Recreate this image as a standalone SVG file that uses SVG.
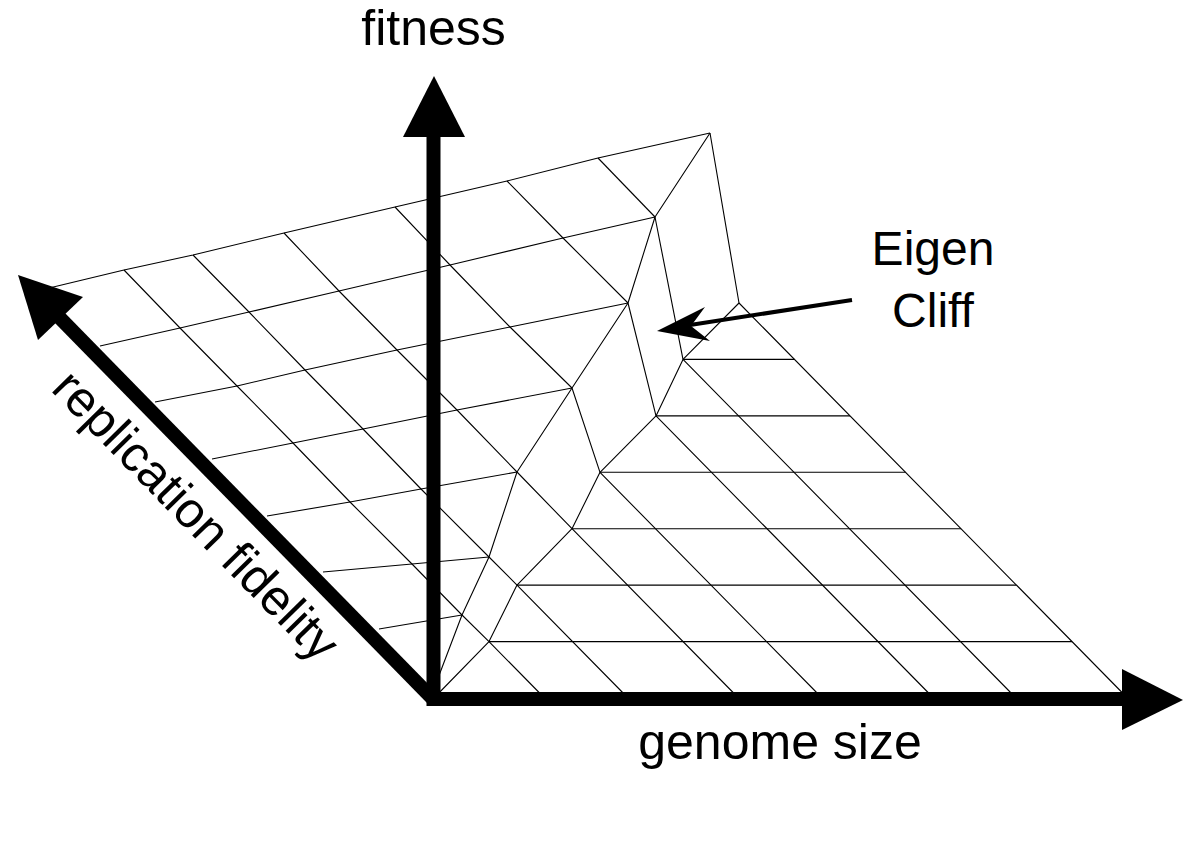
<svg xmlns="http://www.w3.org/2000/svg" width="1200" height="866" viewBox="0 0 1200 866">
<style>
.mesh{fill:none;stroke:#000;stroke-width:1.1;stroke-linejoin:round}
.axis{fill:none;stroke:#000;stroke-width:14;stroke-linecap:butt}
.head{fill:#000;stroke:none}
.lbl{font-family:"Liberation Sans",Arial,sans-serif;fill:#000;text-anchor:middle}
</style>
<rect x="0" y="0" width="1200" height="866" fill="#fff"/>
<g id="surface" class="mesh">
  <g id="plateau-rows">
    <path d="M45,289 L124,270 L193,255 L284,233 L395,207 L507,181 L598,158 L710,133"/>
    <path d="M100,346 L180,328 L249,312 L339,291 L450,265 L563,238 L655,217"/>
    <path d="M155,402 L237,386 L305,370 L397,350 L510,327 L628,303"/>
    <path d="M212,459 L293,443 L363,429 L457,410 L572,388"/>
    <path d="M267,516 L350,502 L421,489 L517,472"/>
    <path d="M323,572 L412,564 L489,557"/>
    <path d="M379,629 L462,615"/>
  </g>
  <g id="plateau-cols">
    <path d="M124,270 L180,328 L237,386 L293,443 L350,502 L412,564 L462,615"/>
    <path d="M193,255 L249,312 L305,370 L363,429 L421,489 L489,557"/>
    <path d="M284,233 L339,291 L397,350 L457,410 L517,472"/>
    <path d="M395,207 L450,265 L510,327 L572,388"/>
    <path d="M507,181 L563,238 L628,303"/>
    <path d="M598,158 L655,217"/>
  </g>
  <g id="cliff">
    <path d="M710,133 L655,217 L628,303 L572,388 L517,472 L489,557 L462,615 L435,686"/>
    <path d="M739,303 L683,359.4 L656,415.9 L600,472.3 L572,528.7 L517,585.1 L489,641.6 L434,698"/>
    <path d="M710,133 L739,303 M655,217 L683,359.4 M628,303 L656,415.9 M572,388 L600,472.3 M517,472 L572,528.7 M489,557 L517,585.1 M462,615 L489,641.6"/>
  </g>
  <g id="floor">
    <path d="M683,359.4 H794.5 M656,415.9 H850 M600,472.3 H905.5 M572,528.7 H961 M517,585.1 H1016.5 M489,641.6 H1072"/>
    <path d="M739,303 L1127.5,698 M683,359.4 L1016,698 M656,415.9 L933.5,698 M600,472.3 L822,698 M572,528.7 L738.5,698 M517,585.1 L628,698 M489,641.6 L544.5,698"/>
  </g>
</g>
<g id="axes">
  <g id="axis-fitness">
    <line class="axis" x1="433.5" y1="706" x2="433.5" y2="135"/>
    <polygon class="head" points="434,76 465,137 403,137"/>
  </g>
  <g id="axis-genome">
    <line class="axis" x1="427" y1="699" x2="1124" y2="699"/>
    <polygon class="head" points="1183,700 1122,669 1122,730"/>
  </g>
  <g id="axis-fidelity">
    <line class="axis" x1="433" y1="699" x2="58" y2="316"/>
    <polygon class="head" points="18,275 83,297 38,340"/>
  </g>
</g>
<g id="labels">
  <text id="label-fitness" class="lbl" x="433.5" y="45" font-size="50">fitness</text>
  <text id="label-genome" class="lbl" x="780" y="759" font-size="50">genome size</text>
  <text id="label-fidelity" class="lbl" font-size="50" transform="translate(184,527) rotate(45.6)">replication fidelity</text>
</g>
<g id="annotation">
  <text class="lbl" x="933" y="265" font-size="48">Eigen</text>
  <text class="lbl" x="933" y="327" font-size="48">Cliff</text>
  <g id="connectors">
    <line x1="852" y1="300" x2="690" y2="325" stroke="#000" stroke-width="4"/>
    <polygon class="head" points="657,331 705,307 691,326 710,341"/>
  </g>
</g>
</svg>
